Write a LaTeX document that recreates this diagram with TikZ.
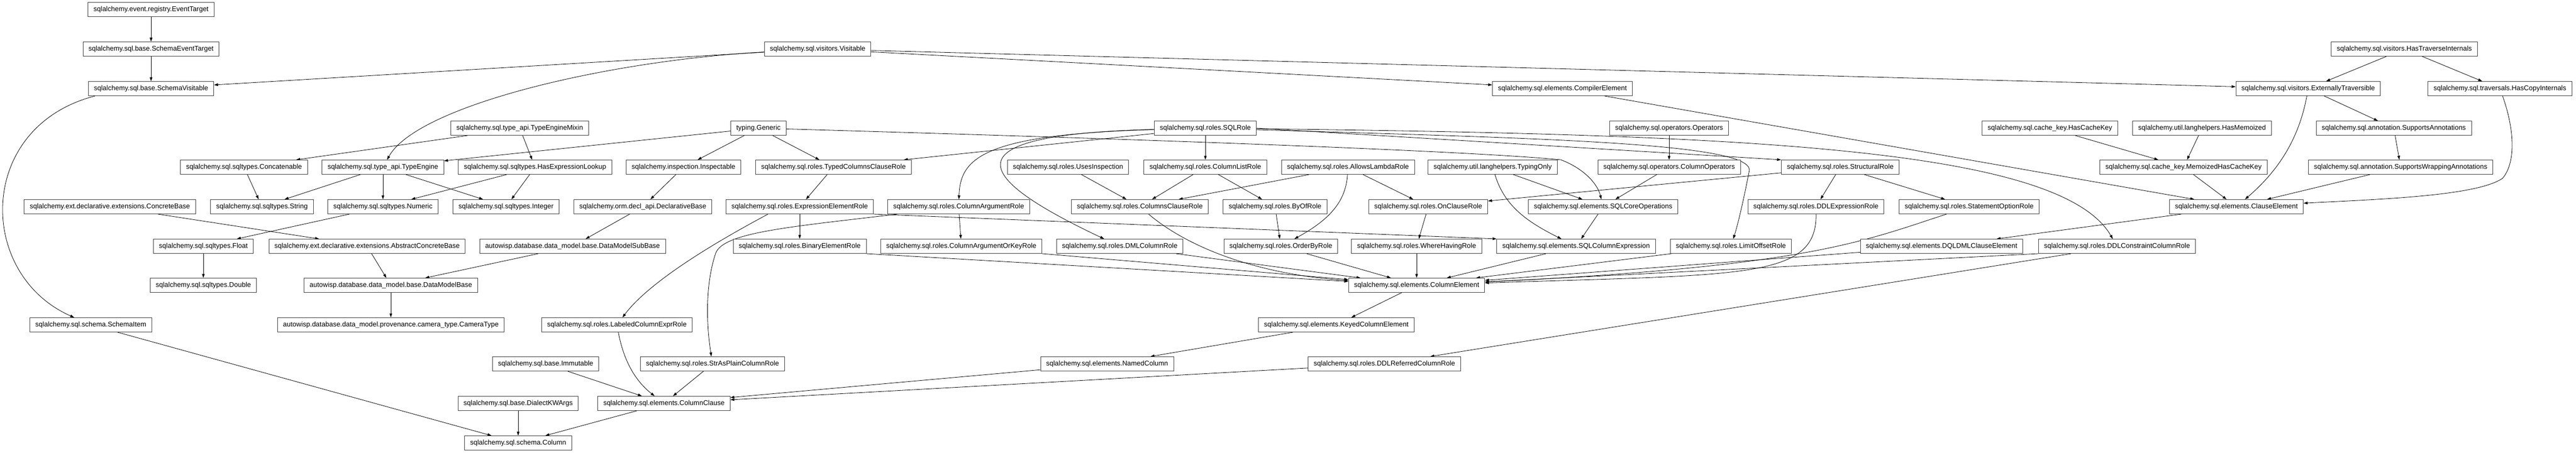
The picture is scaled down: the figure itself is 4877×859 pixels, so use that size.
\documentclass[tikz,border=0pt]{standalone}
\usepackage{fontspec}
\setmainfont{Liberation Sans}
\usetikzlibrary{arrows.meta,backgrounds}
\begin{document}
\begin{tikzpicture}
	[x=1pt, y=-1pt,
	cls/.style={draw=black!75, line width=1pt, fill=white, minimum height=27pt, inner xsep=10.5pt, inner ysep=0pt, font=\fontsize{13}{15}\selectfont},
	inherit/.style={draw=black, line width=0.8pt, -{Triangle[length=7.5pt, width=5pt]}}]
	\useasboundingbox (0,0) rectangle (4877,859);
	\node[cls] (evt) at (286,18.5) {sqlalchemy.event.registry.EventTarget};
	\node[cls] (set) at (286,93) {sqlalchemy.sql.base.SchemaEventTarget};
	\node[cls] (vis) at (1548,93) {sqlalchemy.sql.visitors.Visitable};
	\node[cls] (hti) at (4552,93) {sqlalchemy.sql.visitors.HasTraverseInternals};
	\node[cls] (svis) at (286,168) {sqlalchemy.sql.base.SchemaVisitable};
	\node[cls] (comp) at (2958,168) {sqlalchemy.sql.elements.CompilerElement};
	\node[cls] (ext) at (4370,168) {sqlalchemy.sql.visitors.ExternallyTraversible};
	\node[cls] (hci) at (4733,168) {sqlalchemy.sql.traversals.HasCopyInternals};
	\node[cls] (temix) at (984,243) {sqlalchemy.sql.type\_api.TypeEngineMixin};
	\node[cls] (gen) at (1436,243) {typing.Generic};
	\node[cls] (sqlrole) at (2282,243) {sqlalchemy.sql.roles.SQLRole};
	\node[cls] (ops) at (3160,243) {sqlalchemy.sql.operators.Operators};
	\node[cls] (hck) at (3881,243) {sqlalchemy.sql.cache\_key.HasCacheKey};
	\node[cls] (hmem) at (4169,243) {sqlalchemy.util.langhelpers.HasMemoized};
	\node[cls] (sann) at (4532,243) {sqlalchemy.sql.annotation.SupportsAnnotations};
	\node[cls] (concat) at (462,317) {sqlalchemy.sql.sqltypes.Concatenable};
	\node[cls] (teng) at (725,317) {sqlalchemy.sql.type\_api.TypeEngine};
	\node[cls] (hel) at (1013,317) {sqlalchemy.sql.sqltypes.HasExpressionLookup};
	\node[cls] (insp) at (1294,317) {sqlalchemy.inspection.Inspectable};
	\node[cls] (tccr) at (1578,317) {sqlalchemy.sql.roles.TypedColumnsClauseRole};
	\node[cls] (usesi) at (2022,317) {sqlalchemy.sql.roles.UsesInspection};
	\node[cls] (clr) at (2282,317) {sqlalchemy.sql.roles.ColumnListRole};
	\node[cls] (alr) at (2552,317) {sqlalchemy.sql.roles.AllowsLambdaRole};
	\node[cls] (tonly) at (2826,317) {sqlalchemy.util.langhelpers.TypingOnly};
	\node[cls] (colops) at (3160,317) {sqlalchemy.sql.operators.ColumnOperators};
	\node[cls] (struct) at (3484,317) {sqlalchemy.sql.roles.StructuralRole};
	\node[cls] (mhck) at (4134,317) {sqlalchemy.sql.cache\_key.MemoizedHasCacheKey};
	\node[cls] (swa) at (4545,317) {sqlalchemy.sql.annotation.SupportsWrappingAnnotations};
	\node[cls] (cbase) at (208,392) {sqlalchemy.ext.declarative.extensions.ConcreteBase};
	\node[cls] (string) at (496,392) {sqlalchemy.sql.sqltypes.String};
	\node[cls] (numeric) at (725,392) {sqlalchemy.sql.sqltypes.Numeric};
	\node[cls] (integer) at (958,392) {sqlalchemy.sql.sqltypes.Integer};
	\node[cls] (declbase) at (1217,392) {sqlalchemy.orm.decl\_api.DeclarativeBase};
	\node[cls] (eer) at (1514,392) {sqlalchemy.sql.roles.ExpressionElementRole};
	\node[cls] (car) at (1815,392) {sqlalchemy.sql.roles.ColumnArgumentRole};
	\node[cls] (ccr) at (2158,392) {sqlalchemy.sql.roles.ColumnsClauseRole};
	\node[cls] (byof) at (2414,392) {sqlalchemy.sql.roles.ByOfRole};
	\node[cls] (onc) at (2704,392) {sqlalchemy.sql.roles.OnClauseRole};
	\node[cls] (coreops) at (3035,392) {sqlalchemy.sql.elements.SQLCoreOperations};
	\node[cls] (ddlexpr) at (3438,392) {sqlalchemy.sql.roles.DDLExpressionRole};
	\node[cls] (stopt) at (3728,392) {sqlalchemy.sql.roles.StatementOptionRole};
	\node[cls] (clause) at (4234,392) {sqlalchemy.sql.elements.ClauseElement};
	\node[cls] (float) at (385,467) {sqlalchemy.sql.sqltypes.Float};
	\node[cls] (acbase) at (695,467) {sqlalchemy.ext.declarative.extensions.AbstractConcreteBase};
	\node[cls] (dmsub) at (1084,467) {autowisp.database.data\_model.base.DataModelSubBase};
	\node[cls] (binr) at (1514,467) {sqlalchemy.sql.roles.BinaryElementRole};
	\node[cls] (caok) at (1820,467) {sqlalchemy.sql.roles.ColumnArgumentOrKeyRole};
	\node[cls] (dmlc) at (2120,467) {sqlalchemy.sql.roles.DMLColumnRole};
	\node[cls] (orderby) at (2425,467) {sqlalchemy.sql.roles.OrderByRole};
	\node[cls] (wherehav) at (2682,467) {sqlalchemy.sql.roles.WhereHavingRole};
	\node[cls] (sqlcolexpr) at (2984,467) {sqlalchemy.sql.elements.SQLColumnExpression};
	\node[cls] (limoff) at (3277,467) {sqlalchemy.sql.roles.LimitOffsetRole};
	\node[cls] (dqldml) at (3676,467) {sqlalchemy.sql.elements.DQLDMLClauseElement};
	\node[cls] (ddlcons) at (4008,467) {sqlalchemy.sql.roles.DDLConstraintColumnRole};
	\node[cls] (double) at (385,541) {sqlalchemy.sql.sqltypes.Double};
	\node[cls] (dmbase) at (740,541) {autowisp.database.data\_model.base.DataModelBase};
	\node[cls] (colel) at (2682,541) {sqlalchemy.sql.elements.ColumnElement};
	\node[cls] (schitem) at (172,616) {sqlalchemy.sql.schema.SchemaItem};
	\node[cls] (camera) at (740,616) {autowisp.database.data\_model.provenance.camera\_type.CameraType};
	\node[cls] (lcer) at (1168,616) {sqlalchemy.sql.roles.LabeledColumnExprRole};
	\node[cls] (kce) at (2530,616) {sqlalchemy.sql.elements.KeyedColumnElement};
	\node[cls] (immut) at (1033,690) {sqlalchemy.sql.base.Immutable};
	\node[cls] (strplain) at (1349,690) {sqlalchemy.sql.roles.StrAsPlainColumnRole};
	\node[cls] (namedcol) at (2096,690) {sqlalchemy.sql.elements.NamedColumn};
	\node[cls] (ddlref) at (2621,690) {sqlalchemy.sql.roles.DDLReferredColumnRole};
	\node[cls] (dkw) at (981,765) {sqlalchemy.sql.base.DialectKWArgs};
	\node[cls] (colclause) at (1257,765) {sqlalchemy.sql.elements.ColumnClause};
	\node[cls] (column) at (981,840) {sqlalchemy.sql.schema.Column};
	\begin{scope}[on background layer]
	\foreach \a/\b in {evt/set, set/svis, vis/svis, vis/comp, vis/ext, schitem/column,
		temix/concat, temix/hel, gen/teng, gen/insp, gen/tccr,
		concat/string, teng/string, teng/numeric, teng/integer, hel/numeric, hel/integer,
		numeric/float, float/double, cbase/acbase, acbase/dmbase, dmsub/dmbase, dmbase/camera,
		insp/declbase, declbase/dmsub, sqlrole/tccr, sqlrole/clr, sqlrole.east/struct.north west,
		tccr/eer, eer/binr, eer.south east/sqlcolexpr.north west, car/caok,
		usesi/ccr, clr/ccr, clr/byof, alr/ccr, alr/onc, byof/orderby, onc/wherehav, struct/onc,
		struct/ddlexpr, struct/stopt, tonly/coreops, colops/coreops, ops/colops, coreops/sqlcolexpr,
		hti/ext, hti/hci, ext/sann, sann/swa, hck/mhck, hmem/mhck, mhck/clause, swa/clause, comp/clause,
		clause/dqldml, ddlcons/ddlref,
		caok.south east/colel, binr.south east/colel, dmlc/colel, orderby/colel, wherehav/colel,
		sqlcolexpr/colel, limoff/colel, dqldml/colel, ddlcons.south west/colel,
		colel/kce, kce/namedcol, namedcol/colclause, ddlref/colclause, strplain/colclause,
		immut/colclause, colclause/column, dkw/column}
	{	\draw[inherit] (\a) -- (\b);
		}
	\draw[inherit] (vis) .. controls (1150,115) and (790,200) .. (teng);
	\draw[inherit] ([xshift=13pt]svis.south west) .. controls (-45,240) and (-45,520) .. (schitem);
	\draw[inherit] (sqlrole) .. controls (1860,255) and (1818,300) .. (car);
	\draw[inherit] (sqlrole) .. controls (1800,255) and (1830,330) .. (dmlc);
	\draw[inherit] (sqlrole) .. controls (2900,262) and (3310,270) .. (3312,322) .. controls (3305,360) and (3292,420) .. (limoff);
	\draw[inherit] (sqlrole) .. controls (3300,255) and (3900,280) .. (ddlcons);
	\draw[inherit] (gen) .. controls (2300,268) and (2800,288) .. (2955,303) .. controls (3000,320) and (3025,350) .. (coreops);
	\draw[inherit] (tonly) .. controls (2848,390) and (2890,420) .. (sqlcolexpr);
	\draw[inherit] (alr) .. controls (2548,380) and (2520,415) .. (orderby);
	\draw[inherit] (ccr) .. controls (2250,470) and (2380,520) .. (colel);
	\draw[inherit] (ddlexpr) .. controls (3440,530) and (3300,520) .. (colel);
	\draw[inherit] (stopt) .. controls (3520,460) and (3420,505) .. (colel);
	\draw[inherit] ([xshift=-60pt]eer.south) .. controls (1410,430) and (1240,520) .. (lcer);
	\draw[inherit] (car) .. controls (1500,430) and (1370,440) .. (1355,480) .. controls (1338,530) and (1335,600) .. (strplain);
	\draw[inherit] (lcer) .. controls (1180,680) and (1200,720) .. (colclause);
	\draw[inherit] (ext) .. controls (4352,265) and (4312,325) .. (clause);
	\draw[inherit] (hci) .. controls (4762,250) and (4762,310) .. (4738,338) .. controls (4690,372) and (4500,378) .. (clause);
	\end{scope}
	\end{tikzpicture}
\end{document}
